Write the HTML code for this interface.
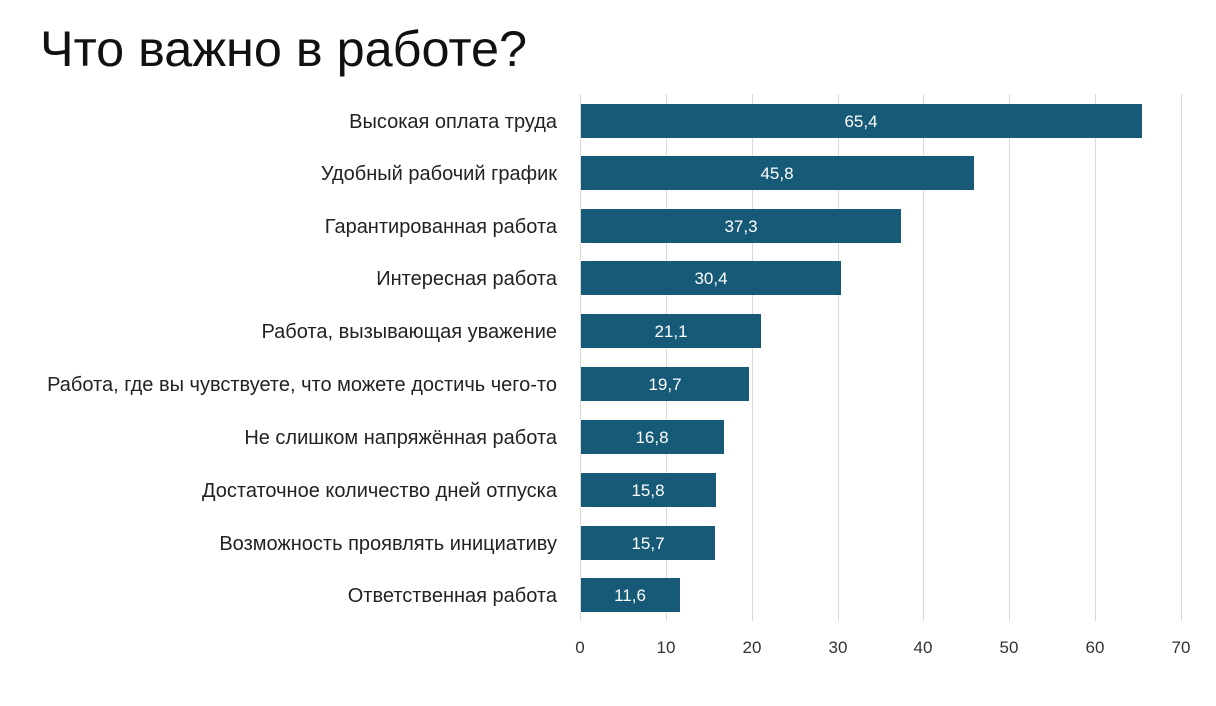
<!DOCTYPE html>
<html><head><meta charset="utf-8"><style>
body{margin:0;background:#fff;}
</style></head><body>
<svg width="1216" height="701" xmlns="http://www.w3.org/2000/svg" font-family="Liberation Sans, DejaVu Sans, sans-serif">
<rect width="1216" height="701" fill="#fff"/>
<text x="40" y="66" font-size="50" fill="#111" textLength="487" lengthAdjust="spacingAndGlyphs">Что важно в работе?</text>
<g stroke="#d9d9d9" stroke-width="1">
<line x1="580.5" y1="94" x2="580.5" y2="621"/>
<line x1="666.5" y1="94" x2="666.5" y2="621"/>
<line x1="752.5" y1="94" x2="752.5" y2="621"/>
<line x1="838.5" y1="94" x2="838.5" y2="621"/>
<line x1="923.5" y1="94" x2="923.5" y2="621"/>
<line x1="1009.5" y1="94" x2="1009.5" y2="621"/>
<line x1="1095.5" y1="94" x2="1095.5" y2="621"/>
<line x1="1181.5" y1="94" x2="1181.5" y2="621"/>
</g>
<g fill="#175a78">
<rect x="581" y="104" width="561" height="34"/>
<rect x="581" y="156" width="393" height="34"/>
<rect x="581" y="209" width="320" height="34"/>
<rect x="581" y="261" width="260" height="34"/>
<rect x="581" y="314" width="180" height="34"/>
<rect x="581" y="367" width="168" height="34"/>
<rect x="581" y="420" width="143" height="34"/>
<rect x="581" y="473" width="135" height="34"/>
<rect x="581" y="526" width="134" height="34"/>
<rect x="581" y="578" width="99" height="34"/>
</g>
<g fill="#fff" font-size="17" text-anchor="middle">
<text x="861" y="127">65,4</text>
<text x="777" y="179">45,8</text>
<text x="741" y="232">37,3</text>
<text x="711" y="284">30,4</text>
<text x="671" y="337">21,1</text>
<text x="665" y="390">19,7</text>
<text x="652" y="443">16,8</text>
<text x="648" y="496">15,8</text>
<text x="648" y="549">15,7</text>
<text x="630" y="601">11,6</text>
</g>
<g fill="#222" font-size="20" text-anchor="end">
<text x="557" y="128">Высокая оплата труда</text>
<text x="557" y="180">Удобный рабочий график</text>
<text x="557" y="233">Гарантированная работа</text>
<text x="557" y="285">Интересная работа</text>
<text x="557" y="338">Работа, вызывающая уважение</text>
<text x="557" y="391">Работа, где вы чувствуете, что можете достичь чего-то</text>
<text x="557" y="444">Не слишком напряжённая работа</text>
<text x="557" y="497">Достаточное количество дней отпуска</text>
<text x="557" y="550">Возможность проявлять инициативу</text>
<text x="557" y="602">Ответственная работа</text>
</g>
<g fill="#333" font-size="17" text-anchor="middle">
<text x="580" y="653">0</text>
<text x="666" y="653">10</text>
<text x="752" y="653">20</text>
<text x="838" y="653">30</text>
<text x="923" y="653">40</text>
<text x="1009" y="653">50</text>
<text x="1095" y="653">60</text>
<text x="1181" y="653">70</text>
</g>
</svg>
</body></html>
